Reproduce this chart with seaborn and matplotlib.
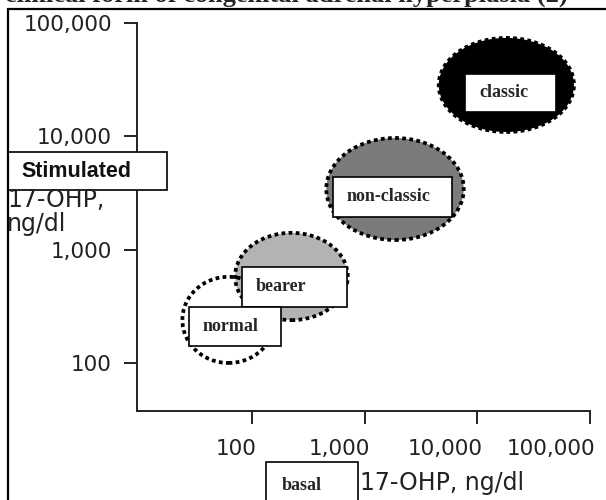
import numpy as np
import matplotlib
matplotlib.use("Agg")
import matplotlib.pyplot as plt
import matplotlib.transforms as mtransforms
import seaborn as sns
from matplotlib.patches import Ellipse, Rectangle
from matplotlib.lines import Line2D

# groups and their areas (ng/dl)
groups = ["normal", "bearer", "non-classic", "classic"]
basal_center = [62, 224, 1860, 18100]
stim_center = [240, 580, 3430, 28400]
basal_halfspan = [0.41, 0.50, 0.61, 0.60]   # decades
stim_halfspan = [0.38, 0.385, 0.45, 0.415]  # decades
fills = ["none", "#b3b3b3", "#7b7b7b", "black"]

tick_vals = [100, 1000, 10000, 100000]

# label boxes (log10 units): left, bottom, right, top
label_boxes = {
    "normal": (1.441, 2.150, 2.257, 2.494),
    "bearer": (1.911, 2.494, 2.843, 2.847),
    "non-classic": (2.719, 3.289, 3.775, 3.642),
    "classic": (3.890, 4.215, 4.697, 4.551),
}

sns.set_theme(style="white")

W, H = 606, 500
def fx(px):
    return px / W
def fy(py):
    return 1 - py / H

fig = plt.figure(figsize=(6.06, 5.0), dpi=100)
ax = fig.add_axes([fx(137), fy(411), fx(590) - fx(137), fy(23) - fy(411)])
ax.set_xlim(0.9796, 5.0)
ax.set_ylim(1.5763, 5.0)

order = [3, 2, 1, 0]
for z, i in enumerate(order):
    e = Ellipse((np.log10(basal_center[i]), np.log10(stim_center[i])),
                width=2 * basal_halfspan[i], height=2 * stim_halfspan[i],
                facecolor=fills[i], edgecolor="black", lw=2.7,
                linestyle=(0, (1, 0.9)), zorder=2 + z)
    ax.add_patch(e)

for k, g in enumerate(groups[::-1]):
    x0, y0, x1, y1 = label_boxes[g]
    ax.add_patch(Rectangle((x0, y0), x1 - x0, y1 - y0, facecolor="white",
                           edgecolor="black", lw=1.2, zorder=10 + k))
    ax.text(x0 + 14 / 112.7, (y0 + y1) / 2, g, family="Liberation Serif",
            weight="bold", fontsize=13, va="center", ha="left", zorder=10 + k)

ax.set_xticks(np.log10(tick_vals))
ax.set_xticklabels([f"{v:,}" for v in tick_vals])
ax.set_yticks(np.log10(tick_vals))
ax.set_yticklabels([f"{v:,}" for v in tick_vals])
ax.tick_params(direction="out", length=9.4, width=1.4, color="#222222",
               labelsize=15.5, pad=8.6, labelcolor="#222222",
               bottom=True, left=True)
ax.tick_params(axis="x", pad=11)
shift = mtransforms.ScaledTranslation(5 / 100, 0, fig.dpi_scale_trans)
for lab in ax.get_xticklabels():
    lab.set_family("DejaVu Sans")
    lab.set_ha("right")
    lab.set_transform(lab.get_transform() + shift)
for lab in ax.get_yticklabels():
    lab.set_family("DejaVu Sans")
sns.despine(ax=ax)
for s in ["left", "bottom"]:
    ax.spines[s].set_linewidth(1.4)
    ax.spines[s].set_color("#222222")

# frame lines of the page
fig.add_artist(Line2D([fx(8), fx(8)], [fy(9), fy(505)], color="black", lw=1.6,
                      transform=fig.transFigure))
fig.add_artist(Line2D([fx(8), fx(610)], [fy(9), fy(9)], color="black", lw=1.6,
                      transform=fig.transFigure))

fig.text(fx(5), fy(2), "clinical form of congenital adrenal hyperplasia (2)",
         family="Liberation Serif", weight="bold", fontsize=19, va="baseline")

# y label
fig.add_artist(Rectangle((fx(8), fy(190)), fx(167) - fx(8), fy(152) - fy(190),
                         transform=fig.transFigure, facecolor="white",
                         edgecolor="black", lw=1.2))
fig.text(fx(21), fy(171), "Stimulated", family="Liberation Sans", weight="bold",
         fontsize=15.5, va="center", color="#111111")
fig.text(fx(7), fy(207), "17-OHP,", family="DejaVu Sans", fontsize=17,
         va="baseline", color="#222222")
fig.text(fx(7), fy(231), "ng/dl", family="DejaVu Sans", fontsize=17,
         va="baseline", color="#222222")

# x label
fig.add_artist(Rectangle((fx(266), fy(510)), fx(358) - fx(266), fy(462) - fy(510),
                         transform=fig.transFigure, facecolor="white",
                         edgecolor="black", lw=1.2))
fig.text(fx(282), fy(490), "basal", family="Liberation Serif", weight="bold",
         fontsize=13, va="baseline")
fig.text(fx(360), fy(490), "17-OHP, ng/dl", family="DejaVu Sans", fontsize=17,
         va="baseline", color="#222222")

fig.savefig("out.png", dpi=100)
